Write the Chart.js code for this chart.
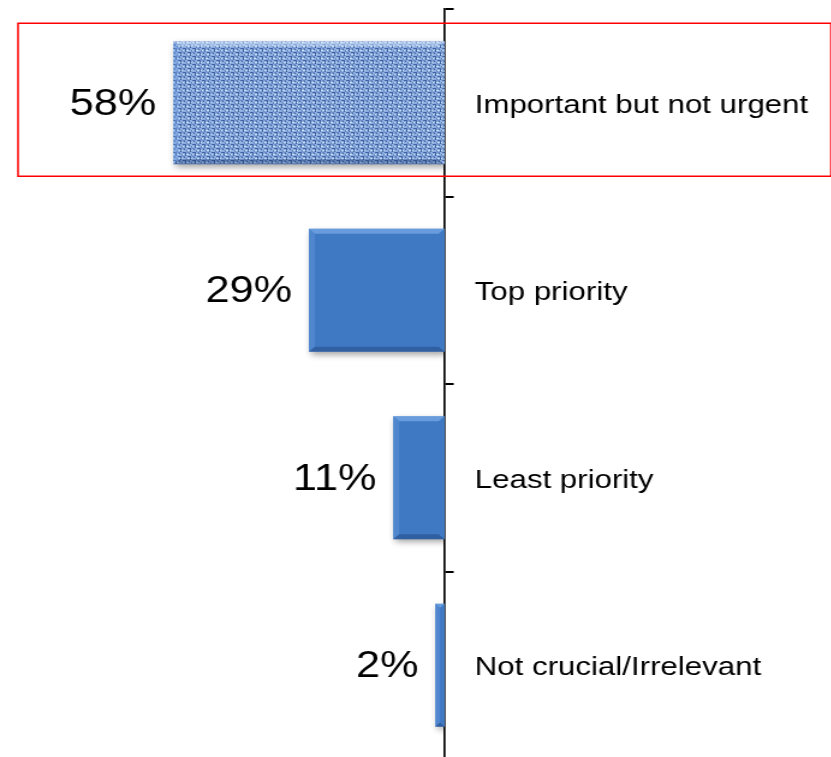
<!DOCTYPE html>
<html>
<head>
<meta charset="utf-8">
<script src="https://cdn.jsdelivr.net/npm/chart.js@4/dist/chart.umd.min.js"></script>
<style>
  html, body { margin: 0; padding: 0; background: #fff; overflow: hidden; }
  /* drawn narrow, then widened so the text gets the same wide look */
  #wrap { width: 692.5px; height: 770px; transform: scaleX(1.2); transform-origin: 0 0; }
</style>
</head>
<body>
<div id="wrap"><canvas id="chart"></canvas></div>
<script>
  const categories = ['Important but not urgent', 'Top priority', 'Least priority', 'Not crucial/Irrelevant'];
  const shares = [58, 29, 11, 2];
  const valueLabels = shares.map(v => v + '%');
  const highlighted = 0; // row with the woven fill and the red frame

  const FONT = '"Liberation Sans", Arial, sans-serif';

  // small woven tile for the highlighted bar
  function weavePattern() {
    const c = document.createElement('canvas');
    c.width = 8; c.height = 8;
    const g = c.getContext('2d');
    g.fillStyle = '#8eaee0';
    g.fillRect(0, 0, 8, 8);
    g.fillStyle = '#3f63a3';
    g.fillRect(0, 0, 3, 1);
    g.fillRect(4, 4, 3, 1);
    g.fillRect(2, 1, 1, 3);
    g.fillRect(6, 5, 1, 3);
    g.fillRect(5, 1, 1, 1);
    g.fillRect(1, 5, 1, 1);
    g.fillStyle = '#6486c2';
    g.fillRect(4, 0, 2, 1);
    g.fillRect(0, 4, 2, 1);
    g.fillRect(7, 2, 1, 2);
    g.fillRect(3, 6, 1, 2);
    g.fillStyle = '#cddff6';
    g.fillRect(3, 2, 2, 1);
    g.fillRect(7, 6, 1, 1);
    g.fillRect(0, 2, 1, 1);
    g.fillRect(4, 6, 2, 1);
    return g.createPattern(c, 'repeat');
  }

  const barDecor = {
    id: 'barDecor',
    beforeDatasetsDraw(chart) {
      const ctx = chart.ctx;
      ctx.save();
      ctx.shadowColor = 'rgba(0,0,0,0.35)';
      ctx.shadowBlur = 6;
      ctx.shadowOffsetX = 2;
      ctx.shadowOffsetY = 3;
    },
    afterDatasetsDraw(chart) {
      const ctx = chart.ctx;
      ctx.restore();
      const bars = chart.getDatasetMeta(0).data;
      bars.forEach((bar, i) => {
        const left = Math.min(bar.x, bar.base), right = Math.max(bar.x, bar.base);
        const top = bar.y - bar.height / 2, bottom = bar.y + bar.height / 2;
        const e = Math.min(5, (right - left) / 2);
        // bevelled edges
        ctx.save();
        ctx.fillStyle = i === highlighted ? 'rgba(220,235,255,0.5)' : 'rgba(140,185,240,0.55)';
        ctx.beginPath();
        ctx.moveTo(left, top); ctx.lineTo(right, top); ctx.lineTo(right - e, top + e); ctx.lineTo(left + e, top + e);
        ctx.fill();
        ctx.fillStyle = 'rgba(110,160,225,0.35)';
        ctx.beginPath();
        ctx.moveTo(left, top); ctx.lineTo(left + e, top + e); ctx.lineTo(left + e, bottom - e); ctx.lineTo(left, bottom);
        ctx.fill();
        ctx.fillStyle = 'rgba(20,50,100,0.35)';
        ctx.beginPath();
        ctx.moveTo(left, bottom); ctx.lineTo(left + e, bottom - e); ctx.lineTo(right - e, bottom - e); ctx.lineTo(right, bottom);
        ctx.fill();
        ctx.restore();

        // value to the left of the bar
        ctx.save();
        ctx.font = '36px ' + FONT;
        ctx.fillStyle = '#000';
        ctx.textAlign = 'right';
        ctx.textBaseline = 'middle';
        ctx.fillText(valueLabels[i], left - 14, bar.y + 2);
        ctx.restore();

        // red frame around the highlighted row
        if (i === highlighted) {
          ctx.save();
          ctx.strokeStyle = '#ff0000';
          ctx.lineWidth = 1.5;
          ctx.strokeRect(15, top - 18, chart.width - 16, bottom - top + 30);
          ctx.restore();
        }
      });
    }
  };

  new Chart(document.getElementById('chart'), {
    type: 'bar',
    data: {
      labels: categories,
      datasets: [{
        data: shares,
        backgroundColor: (c) => c.dataIndex === highlighted ? weavePattern() : '#3f79c4',
        borderWidth: 0,
        barPercentage: 0.656,
        categoryPercentage: 1
      }]
    },
    options: {
      indexAxis: 'y',
      responsive: true,
      maintainAspectRatio: false,
      animation: false,
      layout: { padding: { top: 9, bottom: 11, left: 0, right: 0 } },
      plugins: { legend: { display: false }, tooltip: { enabled: false } },
      scales: {
        x: { display: false, reverse: true, min: 0, max: 95 },
        y: {
          position: 'right',
          afterFit: (s) => { s.width = 322.5; s.paddingTop = 0; s.paddingBottom = 0; },
          grid: { drawOnChartArea: false, color: '#000', lineWidth: 2, tickLength: 7.5 },
          border: { display: true, color: '#000', width: 1.7 },
          ticks: { color: '#000', padding: 17.5, labelOffset: 3, font: { size: 26, family: FONT } }
        }
      }
    },
    plugins: [barDecor]
  });
</script>
</body>
</html>
